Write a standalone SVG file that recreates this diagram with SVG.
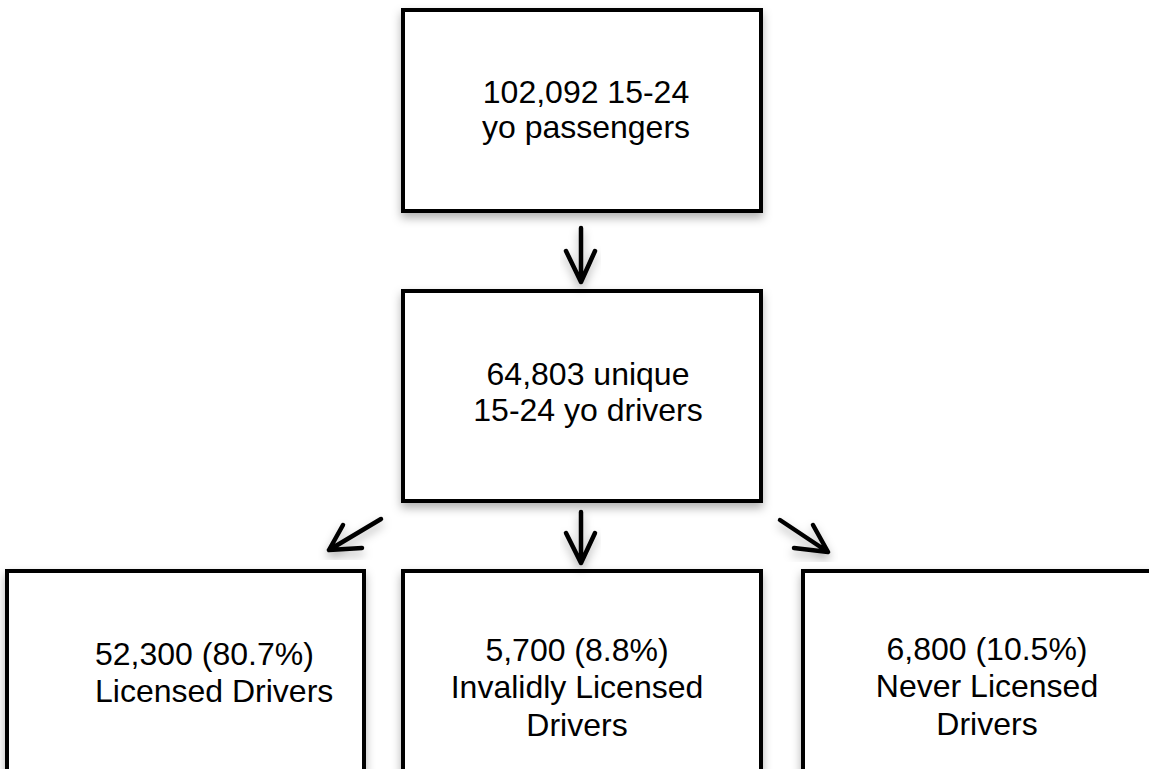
<svg xmlns="http://www.w3.org/2000/svg" width="1149" height="769" viewBox="0 0 1149 769">
  <style>
    .box { fill: #ffffff; stroke: #000000; stroke-width: 4; filter: url(#shadow); }
    .lbl { font-family: "Liberation Sans", Arial, sans-serif; font-size: 32px; fill: #000000; }
    .c { text-anchor: middle; }
    .arrow { fill: none; stroke: #000000; stroke-width: 4.5; stroke-linecap: round; stroke-linejoin: round; filter: url(#shadow); }
  </style>
  <defs>
    <filter id="shadow" x="-20%" y="-20%" width="140%" height="150%">
      <feDropShadow dx="0" dy="5" stdDeviation="5" flood-color="#000000" flood-opacity="0.3"/>
    </filter>
  </defs>
  <rect width="1149" height="769" fill="#ffffff"/>

  <g id="node-passengers">
    <rect class="box" x="403" y="10" width="358" height="201"/>
    <text class="lbl c" x="586" y="103">102,092 15-24</text>
    <text class="lbl c" x="586" y="138">yo passengers</text>
  </g>

  <g id="node-drivers">
    <rect class="box" x="403" y="291" width="358" height="210"/>
    <text class="lbl c" x="588" y="385">64,803 unique</text>
    <text class="lbl c" x="588" y="421">15-24 yo drivers</text>
  </g>

  <g id="node-licensed">
    <rect class="box" x="7" y="571" width="357" height="220"/>
    <text class="lbl" x="95" y="665">52,300 (80.7%)</text>
    <text class="lbl" x="95" y="702">Licensed Drivers</text>
  </g>

  <g id="node-invalid">
    <rect class="box" x="403" y="571" width="358" height="220"/>
    <text class="lbl c" x="577" y="661">5,700 (8.8%)</text>
    <text class="lbl c" x="577" y="698">Invalidly Licensed</text>
    <text class="lbl c" x="577" y="736">Drivers</text>
  </g>

  <g id="node-never">
    <rect class="box" x="803" y="571" width="368" height="220"/>
    <text class="lbl c" x="987" y="660">6,800 (10.5%)</text>
    <text class="lbl c" x="987" y="697">Never Licensed</text>
    <text class="lbl c" x="987" y="735">Drivers</text>
  </g>

  <g id="connectors">
    <path class="arrow" d="M581 228 L581 282 M566 251 L581 282 L595 251"/>
    <path class="arrow" d="M581 512 L581 563 M566 533 L581 563 L595 533"/>
    <path class="arrow" d="M381 519 L329 550 M343 525 L329 550 L362 548"/>
    <path class="arrow" d="M780 520 L828 552 M813 525 L828 552 L794 548"/>
  </g>
</svg>
